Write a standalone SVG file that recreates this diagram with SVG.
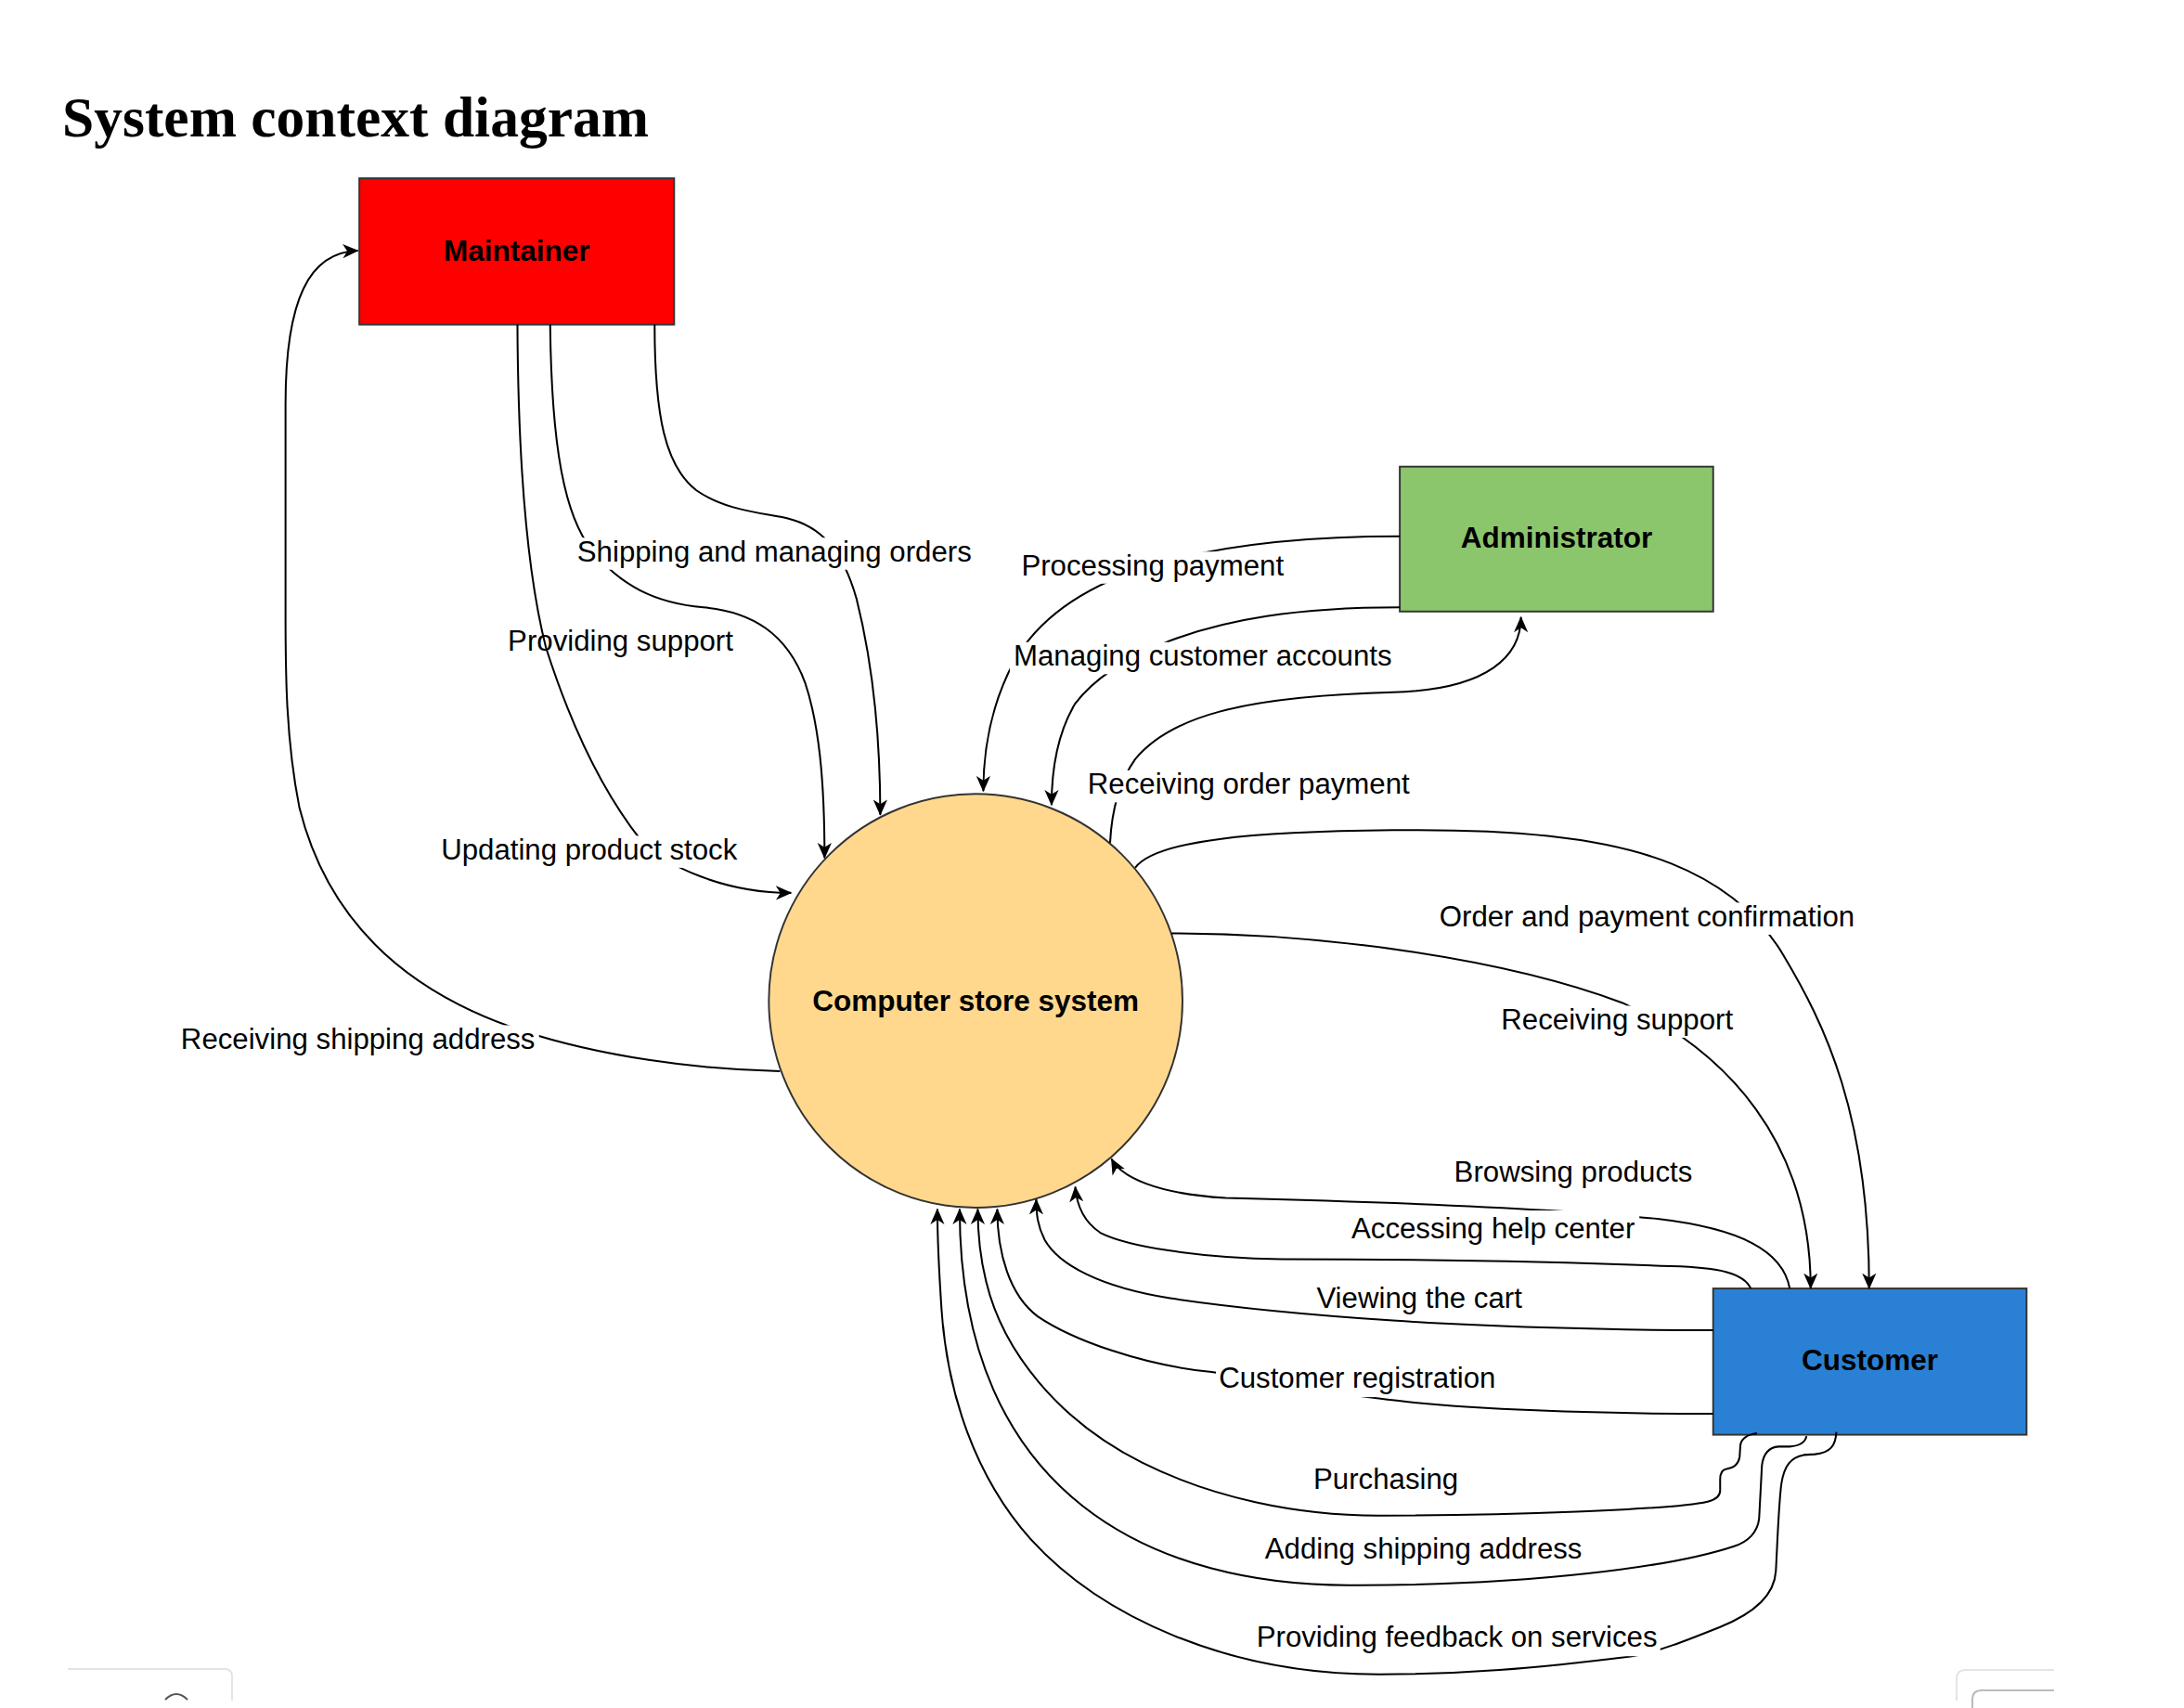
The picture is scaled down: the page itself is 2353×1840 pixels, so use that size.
<svg xmlns="http://www.w3.org/2000/svg" width="2353" height="1840" viewBox="0 0 2353 1840">
<defs>
<style>
.title{font-family:"Liberation Serif","Times New Roman",serif;font-weight:bold;font-size:61.5px;fill:#000}
.box{stroke:#333;stroke-width:1.3}
.ntext{font-family:"Liberation Sans",Arial,sans-serif;font-size:21px;font-weight:bold;text-anchor:middle;fill:#000}
.edge{fill:none;stroke:#000;stroke-width:1.35;marker-end:url(#arrow)}
.lbl{font-family:"Liberation Sans",Arial,sans-serif;font-size:20.8px;text-anchor:middle;fill:#000}
.lbg{fill:#fff}
.ui{fill:none;stroke-width:2}
</style>
<marker id="arrow" viewBox="0 0 10 10" refX="9.5" refY="5" markerWidth="11.5" markerHeight="11.5" markerUnits="userSpaceOnUse" orient="auto">
<path d="M0,0.6 L10,5 L0,9.4 L2.8,5 Z" fill="#000"/>
</marker>
</defs>
<rect width="2353" height="1840" fill="#fff"/>
<text class="title" x="67" y="147">System context diagram</text>
<g transform="scale(1.5006)">
<g id="node-maintainer">
<rect class="box" x="258" y="128" width="226" height="105" fill="#ff0000"/>
<text class="ntext" x="371" y="187.5">Maintainer</text>
</g>
<g id="node-administrator">
<rect class="box" x="1005" y="335" width="225" height="104" fill="#8cc66c"/>
<text class="ntext" x="1117.5" y="393.5">Administrator</text>
</g>
<g id="node-customer">
<rect class="box" x="1230" y="925" width="225" height="105" fill="#2a80d5"/>
<text class="ntext" x="1342.5" y="983.5">Customer</text>
</g>
<g id="node-system">
<circle class="box" cx="700.5" cy="718.5" r="148.5" fill="#ffd88e"/>
<text class="ntext" x="700.5" y="725.5">Computer store system</text>
</g>
<g id="connectors">
<path class="edge" d="M371.5,233 C372,330 378,410 392,465 C408,515 430,565 460,603 C478,622 520,641 568,641"/>
<path class="edge" d="M395,233 C396,320 405,370 425,395 C445,420 470,433 505,436 C540,439 565,455 578,490 C588,520 592,560 592,616"/>
<path class="edge" d="M470,233 C470,300 478,335 500,352 C520,366 545,368 565,372 C590,378 605,395 615,430 C625,470 632,520 632,585"/>
<path class="edge" d="M560,769 C500,768 430,758 375,740 C290,712 235,660 215,580 C205,530 205,480 205,440 L205,290 C205,215 222,181 257,180"/>
<path class="edge" d="M1005,385 C930,385 870,392 820,408 C775,423 745,445 728,475 C712,505 706,535 706,568"/>
<path class="edge" d="M1005,436 C930,436 880,445 840,460 C805,474 785,488 772,505 C760,525 755,550 755,578"/>
<path class="edge" d="M797,605 C798,585 803,562 815,545 C840,515 890,500 1000,497 C1070,495 1092,470 1092,443"/>
<path class="edge" d="M815,623 C830,603 900,597 1000,596 C1080,595 1150,600 1200,620 C1240,636 1265,660 1280,685 C1310,735 1342,800 1342,925"/>
<path class="edge" d="M841,670 C950,670 1080,688 1165,720 C1240,755 1300,820 1300,925"/>
<path class="edge" d="M1285,925 C1280,898 1250,882 1190,875 C1100,866 960,862 880,860 C830,857 805,845 798,832"/>
<path class="edge" d="M1257,925 C1252,914 1235,910 1200,909 C1100,905 1000,904 920,904 C860,903 810,895 790,885 C778,877 773,865 772,852"/>
<path class="edge" d="M1230,955 C1150,955 1060,952 1000,948 C940,944 880,938 840,932 C790,924 760,908 750,890 C745,880 744,872 744,861"/>
<path class="edge" d="M1230,1015 C1150,1015 1050,1012 990,1004 C940,998 900,990 870,985 C820,980 770,962 745,945 C725,930 716,900 716,868"/>
<path class="edge" d="M1261.5,1029 C1255,1030 1250,1032 1249.5,1038 L1249,1046 C1248,1052 1244,1054 1239.5,1054.5 C1236,1055 1235,1058 1235,1062 L1235,1070 C1235,1075 1230,1077 1226,1078 C1200,1084 1080,1088 990,1088 C930,1088 870,1075 820,1050 C760,1020 720,970 708,920 C703,900 702,885 702,868"/>
<path class="edge" d="M1297,1031 C1296,1036 1292,1038 1285,1038.5 L1277,1038.5 C1270,1039 1266,1044 1265,1052 L1263,1090 C1262,1100 1255,1107 1245,1110 C1200,1125 1100,1138 975,1138 C830,1140 689,1075 689,868"/>
<path class="edge" d="M1318.4,1028 C1318,1038 1314,1043 1303,1044 L1295,1044.5 C1286,1046 1281,1052 1279,1065 C1277,1080 1276,1110 1275,1128 C1274,1145 1260,1158 1235,1168 C1210,1178 1190,1186 1172,1189 C1100,1198 1050,1202 990,1202 C880,1202 790,1160 740,1105 C700,1060 680,1000 676,940 C674,910 673,890 673,868"/>
<g id="labels">
<rect class="lbg" x="412" y="386" width="288" height="23"/>
<text class="lbl" x="556" y="403">Shipping and managing orders</text>
<text class="lbl" x="445.5" y="467">Providing support</text>
<rect class="lbg" x="314" y="600" width="218" height="23"/>
<text class="lbl" x="423" y="617">Updating product stock</text>
<rect class="lbg" x="127" y="736" width="260" height="23"/>
<text class="lbl" x="257" y="753">Receiving shipping address</text>
<rect class="lbg" x="731" y="396" width="193" height="23"/>
<text class="lbl" x="827.5" y="413">Processing payment</text>
<rect class="lbg" x="725" y="461" width="277" height="23"/>
<text class="lbl" x="863.5" y="478">Managing customer accounts</text>
<rect class="lbg" x="778" y="553" width="237" height="23"/>
<text class="lbl" x="896.5" y="570">Receiving order payment</text>
<rect class="lbg" x="1031" y="648" width="303" height="23"/>
<text class="lbl" x="1182.5" y="665">Order and payment confirmation</text>
<rect class="lbg" x="1075" y="722" width="172" height="23"/>
<text class="lbl" x="1161" y="739">Receiving support</text>
<text class="lbl" x="1129.5" y="848">Browsing products</text>
<rect class="lbg" x="967" y="869" width="210" height="25"/>
<text class="lbl" x="1072" y="889">Accessing help center</text>
<text class="lbl" x="1019" y="939">Viewing the cart</text>
<rect class="lbg" x="873" y="979" width="203" height="24"/>
<text class="lbl" x="974.5" y="996">Customer registration</text>
<text class="lbl" x="995" y="1069">Purchasing</text>
<text class="lbl" x="1022" y="1119">Adding shipping address</text>
<rect class="lbg" x="900" y="1165" width="292" height="24"/>
<text class="lbl" x="1046" y="1182">Providing feedback on services</text>
</g>
</g>
</g>
<path class="ui" stroke="#e4e4e4" d="M73,1798 L242,1798 Q250,1798 250,1806 L250,1832"/>
<path class="ui" stroke="#555" d="M178,1831 Q190,1819 202,1831"/>
<path class="ui" stroke="#e4e4e4" d="M2213,1799 L2118,1799 Q2108,1799 2108,1809 L2108,1832"/>
<path class="ui" stroke="#bbb" d="M2213,1821 L2135,1821 Q2125,1821 2125,1831 L2125,1840"/>
</svg>
